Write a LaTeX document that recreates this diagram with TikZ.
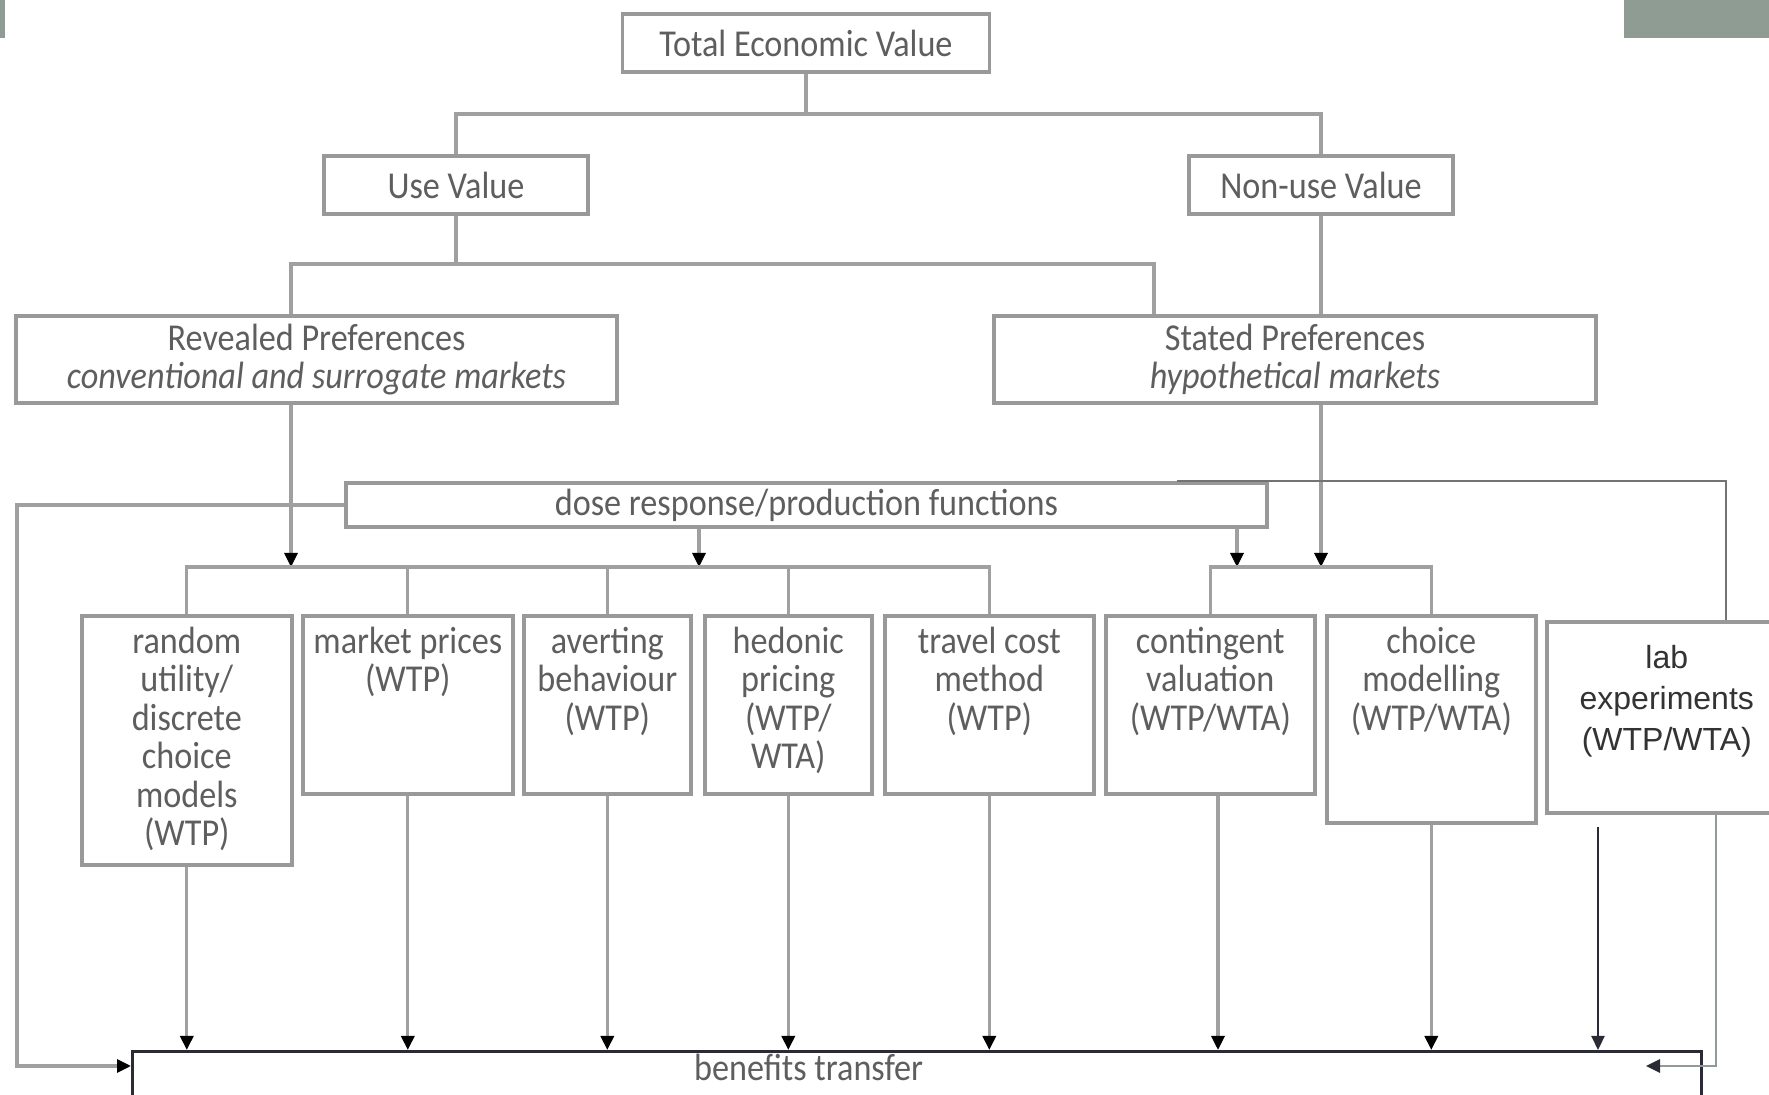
\documentclass[tikz,border=0pt]{standalone}
\usepackage{fontspec}
\setmainfont{Carlito}[FakeStretch=0.9]
\newfontfamily\arialf{Liberation Sans}
\usetikzlibrary{arrows.meta}
\definecolor{ln}{HTML}{A0A0A0}
\definecolor{bd}{HTML}{999999}
\definecolor{tx}{HTML}{5E5E5E}
\definecolor{dk}{HTML}{2B2B36}
\definecolor{gg}{HTML}{8E9C93}
\newcommand\tbox[4]{\parbox[t][#2][t]{#1}{\centering\vspace*{#3}#4\par}}
\begin{document}
\begin{tikzpicture}[x=0.5pt,y=-0.5pt,
 mbox/.style={draw=bd, line width=1.8pt, fill=white, inner sep=0pt, text=tx, font=\fontsize{19}{19.2}\selectfont},
 conn/.style={draw=ln, line width=1.6pt},
 arr/.style={conn, -{Triangle[length=7pt,width=6.5pt,color=black]}},
 dkarr/.style={draw=dk, line width=1.1pt, -{Triangle[length=7pt,width=6.5pt,color=dk]}},
]
\useasboundingbox (0,0) rectangle (1769,1095);
\clip (0,0) rectangle (1769,1095);
\fill[white] (0,0) rectangle (1769,1095);
\fill[gg] (1624,0) rectangle (1769,38);
\fill[gg] (0,0) rectangle (5,38);

% upper nodes
\node[mbox, minimum width=183.5pt, minimum height=29pt] (tev) at (806,43) {Total Economic Value};
\node[mbox, minimum width=132pt, minimum height=29pt] (use) at (456,185) {Use Value};
\node[mbox, minimum width=132pt, minimum height=29pt] (non) at (1321,185) {Non-use Value};
\node[mbox, minimum width=300.5pt, minimum height=43.5pt, align=center] (rev) at (316.5,359.5) {Revealed Preferences\\\textit{conventional and surrogate markets}};
\node[mbox, minimum width=301pt, minimum height=43.5pt, align=center] (sta) at (1295,359.5) {Stated Preferences\\\textit{hypothetical markets}};
\node[mbox, minimum width=460.5pt, minimum height=22pt] (dose) at (806.5,505) {dose response/production functions};

% method boxes
\node[mbox, anchor=north west] (rum) at (80,614) {\tbox{105pt}{124.5pt}{5.7pt}{random\\utility/\\discrete\\choice\\models\\(WTP)}};
\node[mbox, anchor=north west] (mkt) at (301,614) {\tbox{105pt}{89pt}{5.7pt}{market prices\\(WTP)}};
\node[mbox, anchor=north west] (avb) at (522,614) {\tbox{83.5pt}{89pt}{5.7pt}{averting\\behaviour\\(WTP)}};
\node[mbox, anchor=north west] (hed) at (703,614) {\tbox{83.5pt}{89pt}{5.7pt}{hedonic\\pricing\\(WTP/\\WTA)}};
\node[mbox, anchor=north west] (tcm) at (883,614) {\tbox{104.5pt}{89pt}{5.7pt}{travel cost\\method\\(WTP)}};
\node[mbox, anchor=north west] (cv) at (1104,614) {\tbox{104.5pt}{89pt}{5.7pt}{contingent\\valuation\\(WTP/WTA)}};
\node[mbox, anchor=north west] (cm) at (1325,614) {\tbox{104.5pt}{103.5pt}{5.7pt}{choice\\modelling\\(WTP/WTA)}};
\node[mbox, anchor=north west, text=black!80, font=\arialf\fontsize{16}{20.5}\selectfont] (lab) at (1545,620) {\tbox{120pt}{95.5pt}{12pt}{lab\\experiments\\(WTP/WTA)}};

% benefits transfer
\node[draw=dk, line width=1.6pt, fill=white, inner sep=0pt, anchor=north west, text=tx, font=\fontsize{19}{19.2}\selectfont] (ben) at (131,1050)
 {\parbox[t][40pt][t]{784.5pt}{\vspace*{1.5pt}\noindent\makebox[338pt][r]{\makebox[0pt][c]{benefits transfer}}\par}};

% coordinates
\coordinate (hb1) at (806,114);
\coordinate (hb2) at (456,264);
\coordinate (revx) at (291,0);
\coordinate (stax) at (1154,0);
\coordinate (barL) at (184,567);
\coordinate (dx1) at (699,0);
\coordinate (dx2) at (1237,0);
\coordinate (cvx) at (1218,0);
\coordinate (lx1) at (1598,827);
\coordinate (lx2) at (1716,0);
\coordinate (lend) at (1646,1066);
\coordinate (dl) at (17,1066);
\coordinate (tr1) at (1177,481);
\coordinate (trx) at (1726,0);

% upper connectors
\draw[conn] (tev.south) -- (hb1);
\draw[conn] (use.north) |- (hb1) -| (non.north);
\draw[conn] (use.south) -- (hb2);
\draw[conn] (rev.north -| revx) |- (hb2) -| (sta.north -| stax);
\draw[conn] (non.south) -- (sta.north -| non.south);
\draw[arr] (sta.south -| non.south) -- (non.south |- barL);
\draw[arr] (rev.south -| revx) -- (revx |- barL);
\draw[arr] (dose.south -| dx1) -- (dx1 |- barL);
\draw[arr] (dose.south -| dx2) -- (dx2 |- barL);

% bars to method boxes
\draw[conn] (rum.north) -- (rum.north |- barL) -- (tcm.north |- barL) -- (tcm.north);
\foreach \n in {mkt,avb,hed} \draw[conn] (\n.north) -- (\n.north |- barL);
\draw[conn] (cv.north) |- (cm.north |- barL) -- (cm.north);

% to benefits transfer
\foreach \n in {rum,mkt,avb,hed,tcm,cm} \draw[arr] (\n.south) -- (\n.south |- ben.north);
\draw[arr] (cv.south -| cvx) -- (cvx |- ben.north);
\draw[dkarr] (lx1) -- (lx1 |- ben.north);
\draw[draw=gg, line width=1.4pt, -{Triangle[length=7pt,width=6.5pt,color=dk]}] (lab.south -| lx2) |- (lend);
\draw[arr] (dose.west) -| (dl) -- (ben.north west |- dl);
\draw[draw=black!55, line width=1.4pt] (tr1) -| (lab.north -| trx);
\end{tikzpicture}
\end{document}
